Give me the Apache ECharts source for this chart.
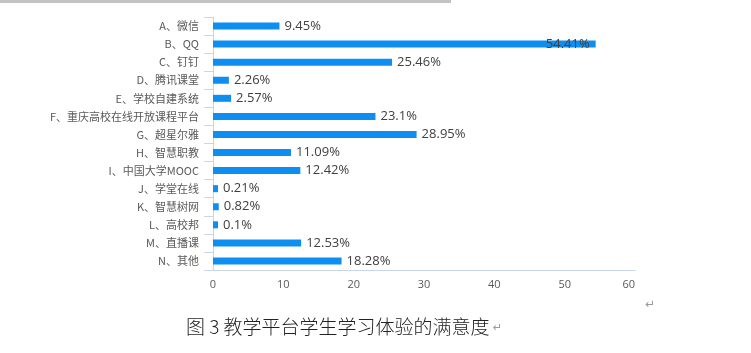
<!DOCTYPE html>
<html>
<head>
<meta charset="utf-8">
<script src="https://cdn.jsdelivr.net/npm/echarts@6/dist/echarts.min.js"></script>
<style>
html,body{margin:0;padding:0;background:#fff;}
#chart{width:751px;height:353px;}
</style>
</head>
<body>
<div id="chart"></div>
<script>
const categories = ["A、微信","B、QQ","C、钉钉","D、腾讯课堂","E、学校自建系统","F、重庆高校在线开放课程平台","G、超星尔雅","H、智慧职教","I、中国大学MOOC","J、学堂在线","K、智慧树网","L、高校邦","M、直播课","N、其他"];
const values = [9.45, 54.41, 25.46, 2.26, 2.57, 23.1, 28.95, 11.09, 12.42, 0.21, 0.82, 0.1, 12.53, 18.28];
const xTicks = [0, 10, 20, 30, 40, 50, 60];
const caption = "图 3 教学平台学生学习体验的满意度";

const axisColor = '#c9d6e8';
const barColor = '#0f8ef2';
const maxVal = Math.max(...values);

const chart = echarts.init(document.getElementById('chart'), null, {renderer: 'canvas'});
chart.setOption({
  animation: false,
  backgroundColor: '#ffffff',
  grid: {left: 213, right: 116, top: 17, bottom: 83, containLabel: false},
  xAxis: {
    type: 'value',
    min: xTicks[0], max: xTicks[xTicks.length - 1], interval: 10,
    axisLine: {show: true, lineStyle: {color: axisColor, width: 1}},
    axisTick: {show: false},
    splitLine: {show: false},
    axisLabel: {color: '#595959', fontSize: 11, fontFamily: 'Open Sans, sans-serif', margin: 9, alignMaxLabel: 'right'}
  },
  yAxis: {
    type: 'category',
    data: categories,
    inverse: true,
    axisLine: {show: true, lineStyle: {color: axisColor, width: 1}},
    axisTick: {show: true, length: 9, lineStyle: {color: axisColor}},
    axisLabel: {color: '#595959', fontSize: 11, fontFamily: '"Noto Sans CJK SC", sans-serif', margin: 14}
  },
  series: [{
    type: 'bar',
    data: values.map(v => v === maxVal
      ? {value: v, label: {position: 'insideRight', distance: 6}}
      : v),
    barWidth: 7,
    barMinHeight: 5,
    itemStyle: {color: barColor},
    label: {
      show: true, position: 'right', distance: 5,
      formatter: '{c}%', color: '#404040', fontSize: 13,
      fontFamily: 'Open Sans, sans-serif'
    }
  }],
  graphic: [
    {type: 'rect', left: 0, top: 0, shape: {width: 451, height: 3}, style: {fill: '#c3c3c3'}},
    {type: 'text', left: 186, top: 317, style: {text: caption, fill: '#222222', font: '300 19px "Noto Sans CJK SC", serif'}},
    {type: 'text', left: 493, top: 323, style: {text: '↵', fill: '#9a9a9a', font: '11px "DejaVu Sans", sans-serif'}},
    {type: 'text', left: 645, top: 299, style: {text: '↵', fill: '#9a9a9a', font: '12px "DejaVu Sans", sans-serif'}}
  ]
});
</script>
</body>
</html>
